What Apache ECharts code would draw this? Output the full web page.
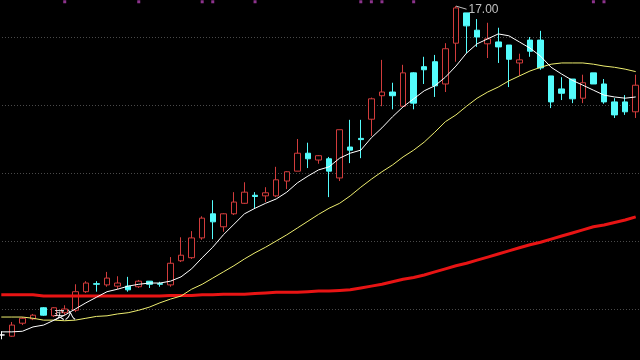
<!DOCTYPE html>
<html><head><meta charset="utf-8">
<style>html,body{margin:0;padding:0;background:#000;overflow:hidden;width:640px;height:360px;position:relative;}#c{position:absolute;left:-4px;top:-31px;width:645px;height:408px;}</style>
<script src="https://cdn.jsdelivr.net/npm/echarts@6/dist/echarts.min.js"></script>
</head><body><div id="c"></div>
<script>
const categories = ['1','2','3','4','5','6','7','8','9','10','11','12','13','14','15','16','17','18','19','20','21','22','23','24','25','26','27','28','29','30','31','32','33','34','35','36','37','38','39','40','41','42','43','44','45','46','47','48','49','50','51','52','53','54','55','56','57','58','59','60','61'];
const opens  = [11.68,11.66,11.87,11.94,12.12,11.99,12.04,12.08,12.38,12.51,12.49,12.47,12.47,12.46,12.55,12.51,12.49,12.88,12.93,13.25,13.64,13.43,13.64,13.81,13.94,13.93,13.93,14.17,14.33,14.62,14.51,14.53,14.22,14.72,14.86,15.17,15.55,15.61,15.38,15.92,16.02,16.10,15.74,16.40,16.89,16.61,16.39,16.42,16.37,16.08,16.45,16.45,15.87,15.66,15.82,15.51,15.92,15.74,15.45,15.45,15.29];
const closes = [11.68,11.84,11.95,12.00,12.00,12.12,12.10,12.38,12.52,12.50,12.60,12.52,12.41,12.55,12.50,12.50,12.84,12.97,13.25,13.57,13.51,13.64,13.83,13.99,13.92,13.98,14.19,14.32,14.62,14.53,14.58,14.33,15.00,14.67,14.84,15.50,15.61,15.55,15.92,15.43,15.97,15.71,16.31,16.97,16.68,16.50,16.47,16.34,16.14,16.13,16.27,16.00,15.45,15.59,15.50,15.76,15.74,15.45,15.24,15.29,15.72];
const lows   = [11.61,11.65,11.84,11.92,11.99,11.97,12.00,12.05,12.36,12.38,12.46,12.42,12.38,12.44,12.44,12.46,12.46,12.86,12.91,13.22,13.23,13.35,13.62,13.80,13.73,13.83,13.91,14.04,14.33,14.38,14.45,13.91,14.17,14.46,14.54,14.90,15.38,15.33,15.38,15.33,15.74,15.53,15.61,16.10,16.24,16.34,16.16,16.08,15.69,15.87,16.18,15.97,15.35,15.48,15.43,15.43,15.74,15.42,15.19,15.24,15.19];
const highs  = [11.74,11.89,11.97,12.02,12.13,12.13,12.16,12.50,12.55,12.55,12.70,12.63,12.62,12.57,12.55,12.54,12.94,13.26,13.36,13.60,13.86,13.65,13.99,14.15,13.99,14.07,14.40,14.33,14.85,14.79,14.59,14.56,15.00,15.16,15.16,15.52,16.13,15.76,16.05,15.93,16.18,16.21,16.40,17.00,16.89,16.79,16.73,16.65,16.37,16.23,16.50,16.60,15.87,15.85,15.82,15.89,15.92,15.82,15.51,15.56,15.89];
const maWhite  = [11.73,11.73,11.74,11.81,11.84,11.92,12.00,12.10,12.20,12.29,12.38,12.42,12.47,12.50,12.52,12.52,12.55,12.62,12.75,12.93,13.10,13.30,13.47,13.64,13.73,13.81,13.88,13.99,14.14,14.25,14.35,14.40,14.54,14.62,14.67,14.87,15.03,15.21,15.37,15.50,15.63,15.71,15.85,16.03,16.24,16.39,16.47,16.55,16.52,16.42,16.32,16.19,16.01,15.90,15.80,15.72,15.64,15.56,15.53,15.51,15.53];
const maYellow = [11.97,11.97,11.97,11.95,11.92,11.92,11.91,11.92,11.95,11.98,11.99,12.02,12.04,12.08,12.13,12.20,12.26,12.31,12.42,12.50,12.60,12.70,12.80,12.91,13.01,13.10,13.20,13.30,13.41,13.52,13.63,13.73,13.81,13.93,14.07,14.20,14.32,14.43,14.56,14.67,14.80,14.96,15.13,15.24,15.38,15.51,15.61,15.69,15.79,15.87,15.95,16.01,16.06,16.08,16.08,16.08,16.06,16.03,16.01,15.98,15.94];
const maRed    = [12.33,12.33,12.33,12.33,12.31,12.31,12.31,12.31,12.31,12.31,12.31,12.31,12.31,12.31,12.31,12.31,12.32,12.32,12.32,12.33,12.33,12.34,12.34,12.34,12.35,12.36,12.37,12.37,12.37,12.38,12.39,12.39,12.40,12.41,12.44,12.47,12.50,12.54,12.58,12.61,12.65,12.70,12.75,12.80,12.84,12.89,12.94,12.99,13.04,13.09,13.14,13.18,13.23,13.28,13.33,13.38,13.43,13.46,13.50,13.54,13.59];
const signalIdx = [6,13,19,20,24,34,35,36,39,56,57];
const signalLevel = 17.07;
const highLabel = '17.00';
const highIdx = 43;
const buyIdx = 6;
const buyLevel = 12.00;
const buyText = '买入';

const kdata = opens.map((o, i) => [o, closes[i], lows[i], highs[i]]);
const chart = echarts.init(document.getElementById('c'), null, {renderer: 'canvas'});
chart.setOption({
  backgroundColor: '#000000',
  animation: false,
  grid: {left: 0, right: 0, top: 0, bottom: 0},
  xAxis: {
    type: 'category', data: categories, boundaryGap: true,
    axisLine: {show: false}, axisTick: {show: false}, axisLabel: {show: false}, splitLine: {show: false}
  },
  yAxis: {
    type: 'value', min: 11, max: 17.6, interval: 1.1,
    axisLine: {show: false}, axisTick: {show: false}, axisLabel: {show: false},
    splitLine: {show: true, lineStyle: {color: '#4a4a4a', type: [1, 2], width: 1}}
  },
  series: [
    {
      type: 'candlestick', data: kdata, barWidth: 6,
      itemStyle: {color: '#000000', color0: '#54fcfc', borderColor: '#d23c3c', borderColor0: '#54fcfc', borderColorDoji: '#ffffff', borderWidth: 1},
      markLine: {
        silent: true, symbol: ['none', 'none'], animation: false,
        lineStyle: {color: '#c0c0c0', width: 1, type: 'solid'},
        label: {show: true, position: 'end', formatter: highLabel, color: '#c0c0c0', fontSize: 12, fontFamily: 'Liberation Sans, Arial', distance: 2},
        data: [[{coord: [categories[highIdx], highs[highIdx]]}, {coord: [categories[highIdx + 1], highs[highIdx] - 0.05]}]]
      },
      markPoint: {
        silent: true, animation: false,
        data: [{coord: [categories[buyIdx], buyLevel], symbol: 'rect', symbolSize: 1, itemStyle: {color: 'rgba(0,0,0,0)'},
          label: {show: true, position: 'inside', formatter: buyText, color: '#ffffff', fontSize: 11, fontFamily: 'Noto Sans CJK SC'}}]
      }
    },
    {type: 'line', data: maRed, symbol: 'none', smooth: false, lineStyle: {color: '#e81414', width: 3}, z: 3},
    {type: 'line', data: maYellow, symbol: 'none', smooth: false, lineStyle: {color: '#eeee70', width: 1}, z: 4},
    {type: 'line', data: maWhite, symbol: 'none', smooth: false, lineStyle: {color: '#ffffff', width: 1}, z: 5},
    {type: 'scatter', data: signalIdx.map(i => [categories[i], signalLevel]), symbol: 'rect', symbolSize: [3, 3], itemStyle: {color: '#b040b0'}, z: 6}
  ]
});
</script>
</body></html>
